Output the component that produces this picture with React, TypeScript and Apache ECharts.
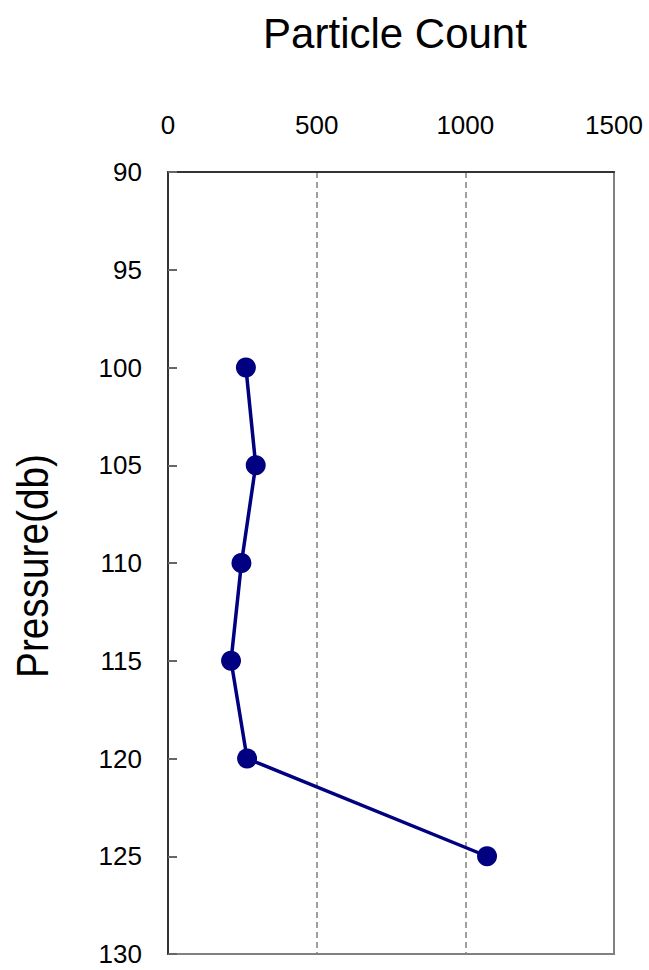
import React, { useEffect, useRef } from "react";
import * as echarts from "echarts";

const pressures = [100, 105, 110, 115, 120, 125];
const particleCounts = [262, 295, 247, 212, 266, 1073];
const titleText = "Particle Count";
const yAxisTitle = "Pressure(db)";

export default function App() {
  const ref = useRef<HTMLDivElement>(null);
  useEffect(() => {
    if (!ref.current) return;
    const chart = echarts.init(ref.current, null, { renderer: "svg" });
    const font = "'Liberation Sans', Arial, sans-serif";
    chart.setOption({
      animation: false,
      backgroundColor: "#ffffff",
      title: {
        text: titleText,
        left: 390,
        top: 28,
        textAlign: "center",
        textVerticalAlign: "middle",
        textStyle: { fontFamily: font, fontSize: 42, fontWeight: "normal", color: "#000" },
      },
      graphic: [
        {
          type: "text",
          x: 33,
          y: 566,
          rotation: Math.PI / 2,
          scaleX: 0.88,
          style: {
            text: yAxisTitle,
            fontFamily: font,
            fontSize: 44,
            fill: "#000",
            align: "center",
            verticalAlign: "middle",
          },
        },
      ],
      grid: {
        left: 168,
        right: 35,
        top: 172,
        bottom: 16,
        show: true,
        borderColor: "#808080",
        borderWidth: 2,
        backgroundColor: "transparent",
      },
      xAxis: {
        type: "value",
        position: "top",
        min: 0,
        max: 1500,
        interval: 500,
        axisLine: { show: true, lineStyle: { color: "#333", width: 2 } },
        axisTick: { show: false },
        axisLabel: {
          fontFamily: font,
          fontSize: 26,
          color: "#000",
          margin: 34,
          formatter: (v: number) => String(v),
        },
        splitLine: { show: true, lineStyle: { color: "#808080", width: 1.5, type: [6, 4] } },
      },
      yAxis: {
        type: "value",
        inverse: true,
        min: 90,
        max: 130,
        interval: 5,
        axisLine: { show: true, lineStyle: { color: "#333", width: 2 } },
        axisTick: { show: true, inside: true, length: 9, lineStyle: { color: "#666", width: 2 } },
        axisLabel: {
          fontFamily: font,
          fontSize: 26,
          color: "#000",
          margin: 26,
          formatter: (v: number) => String(v),
        },
        splitLine: { show: false },
      },
      series: [
        {
          type: "line",
          data: pressures.map((p, i) => [particleCounts[i], p]),
          symbol: "circle",
          symbolSize: 20,
          lineStyle: { color: "#000080", width: 3.5 },
          itemStyle: { color: "#000080" },
        },
      ],
    });
    return () => chart.dispose();
  }, []);
  return (
    <div
      ref={ref}
      style={{ position: "fixed", left: 0, top: 0, width: 649, height: 970 }}
    />
  );
}
